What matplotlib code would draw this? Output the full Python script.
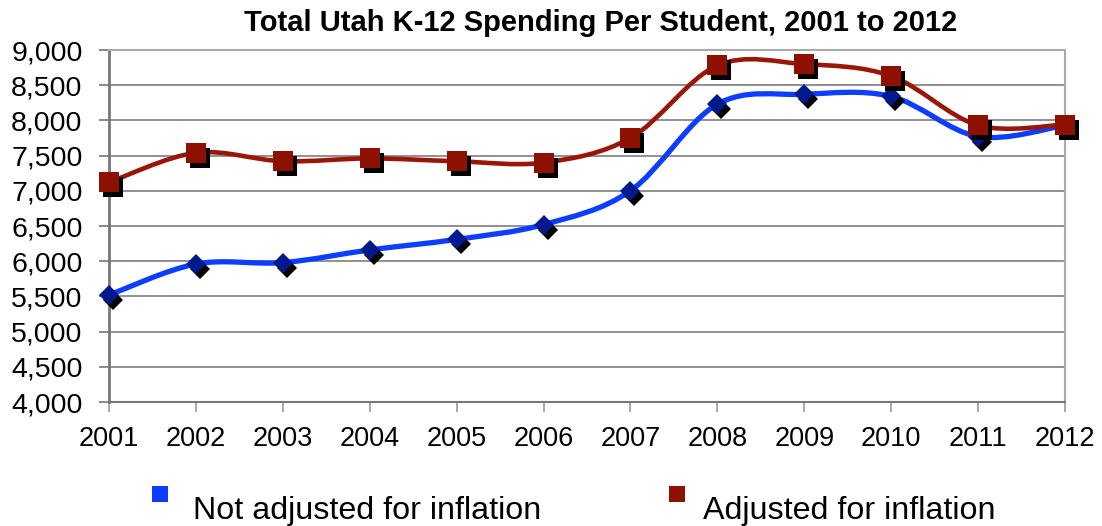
import matplotlib
matplotlib.use("Agg")
import matplotlib.pyplot as plt
import matplotlib.transforms as mtransforms
from matplotlib.path import Path
from matplotlib.patches import PathPatch
from matplotlib.lines import Line2D

plt.rcParams['font.family'] = ['Liberation Sans', 'DejaVu Sans']

years = [2001, 2002, 2003, 2004, 2005, 2006, 2007, 2008, 2009, 2010, 2011, 2012]
not_adjusted = [5520, 5960, 5980, 6160, 6310, 6520, 7000, 8230, 8370, 8340, 7770, 7930]
adjusted = [7120, 7540, 7420, 7460, 7420, 7400, 7750, 8780, 8800, 8630, 7930, 7940]
yticks = [4000, 4500, 5000, 5500, 6000, 6500, 7000, 7500, 8000, 8500, 9000]
title = "Total Utah K-12 Spending Per Student, 2001 to 2012"
labels = ["Not adjusted for inflation", "Adjusted for inflation"]

BLUE_LINE = "#0D3DFF"
BLUE_MARK = "#001A8E"
RED_LINE = "#9A1608"
RED_MARK = "#8E1100"

W, H = 1102, 526
fig = plt.figure(figsize=(W / 100, H / 100), dpi=100)
ax = fig.add_axes([109 / W, 1 - 402 / H, (1065 - 109) / W, (402 - 50) / H])

x = list(range(len(years)))


def smooth_path(xs, ys):
    n = len(xs)
    verts = [(xs[0], ys[0])]
    codes = [Path.MOVETO]
    for i in range(n - 1):
        p0 = (xs[max(i - 1, 0)], ys[max(i - 1, 0)])
        p1 = (xs[i], ys[i])
        p2 = (xs[i + 1], ys[i + 1])
        p3 = (xs[min(i + 2, n - 1)], ys[min(i + 2, n - 1)])
        c1 = (p1[0] + (p2[0] - p0[0]) / 6, p1[1] + (p2[1] - p0[1]) / 6)
        c2 = (p2[0] - (p3[0] - p1[0]) / 6, p2[1] - (p3[1] - p1[1]) / 6)
        verts += [c1, c2, p2]
        codes += [Path.CURVE4] * 3
    return Path(verts, codes)


ax.add_patch(PathPatch(smooth_path(x, not_adjusted), fill=False, edgecolor=BLUE_LINE,
                       lw=3.8, capstyle='round', joinstyle='round', zorder=3))
ax.add_patch(PathPatch(smooth_path(x, adjusted), fill=False, edgecolor=RED_LINE,
                       lw=3.3, capstyle='round', joinstyle='round', zorder=3))

shadow = ax.transData + mtransforms.ScaledTranslation(4 / 100, -5 / 100, fig.dpi_scale_trans)
ax.plot(x, not_adjusted, ls='none', marker='D', ms=10, color='black', mew=0,
        transform=shadow, zorder=4, clip_on=False)
ax.plot(x, not_adjusted, ls='none', marker='D', ms=10, color=BLUE_MARK, mew=0,
        zorder=5, clip_on=False)
ax.plot(x, adjusted, ls='none', marker='s', ms=14.5, color='black', mew=0,
        transform=shadow, zorder=6, clip_on=False)
ax.plot(x, adjusted, ls='none', marker='s', ms=14.5, color=RED_MARK, mew=0,
        zorder=7, clip_on=False)

ax.set_xlim(0, len(years) - 1)
ax.set_ylim(4000, 9000)
ax.set_yticks(yticks)
ax.set_yticklabels([f"{v:,}" for v in yticks])
ax.set_xticks(x)
ax.set_xticklabels([str(y) for y in years])
ax.tick_params(axis='y', length=7, width=1.2, color='#777777', pad=12, labelsize=20.5)
ax.tick_params(axis='x', length=7, width=1.2, color='#999999', pad=10, labelsize=19.5)
ax.grid(axis='y', color='#888888', lw=1.3, zorder=1)
ax.set_axisbelow(True)
for s in ['top', 'right']:
    ax.spines[s].set_color('#AAAAAA')
    ax.spines[s].set_linewidth(1.5)
ax.spines['left'].set_color('#777777')
ax.spines['left'].set_linewidth(2)
ax.spines['bottom'].set_color('#777777')
ax.spines['bottom'].set_linewidth(1.5)

fig.text(601 / W, 1 - 23 / H, title, ha='center', va='center', fontsize=21, fontweight='bold')

# legend
for (mx, color, tx, lab) in [(160, BLUE_LINE, 193, labels[0]), (677, RED_MARK, 703, labels[1])]:
    fig.add_artist(Line2D([mx / W], [1 - 494 / H], marker='s', ms=11.5, color=color, mew=0,
                          ls='none', transform=fig.transFigure))
    fig.text(tx / W, 1 - 511 / H, lab, ha='left', va='center', fontsize=23.2)

fig.savefig("out.png", dpi=100)
